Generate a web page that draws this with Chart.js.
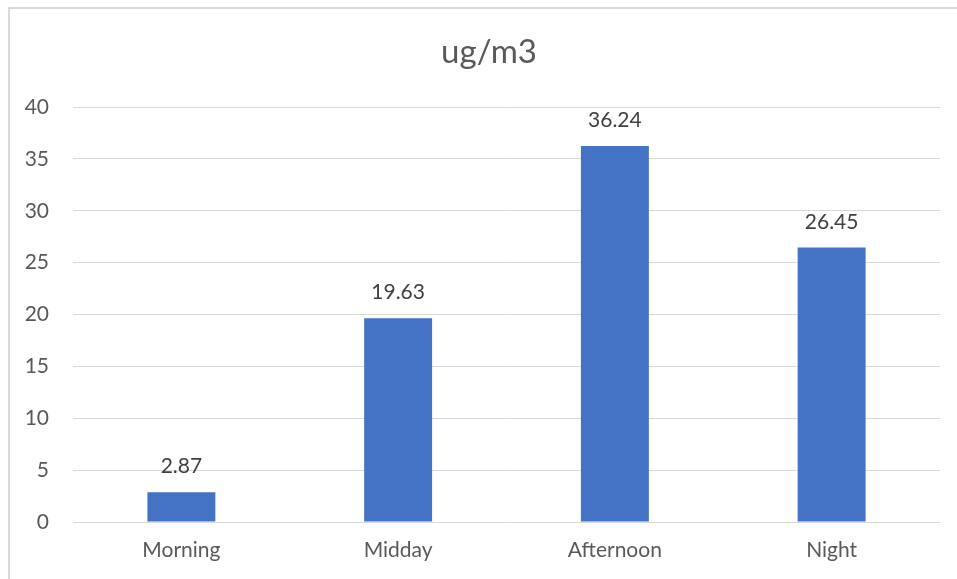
<!DOCTYPE html>
<html><head><meta charset="utf-8">
<script src="https://cdn.jsdelivr.net/npm/chart.js@4"></script>
<style>
html,body{margin:0;padding:0;background:#fff;}
#wrap{position:relative;width:957px;height:579px;overflow:hidden;}
#frame{position:absolute;left:8px;top:7px;width:1000px;height:620px;border:2px solid #d9d9d9;box-sizing:border-box;}
canvas{position:absolute;left:0;top:0;}
</style></head>
<body>
<div id="wrap"><div id="frame"></div><canvas id="c" width="957" height="579"></canvas></div>
<script>
const categories = ["Morning", "Midday", "Afternoon", "Night"];
const values = [2.87, 19.63, 36.24, 26.45];
const yTicks = [0, 5, 10, 15, 20, 25, 30, 35, 40];
const titleText = "ug/m3";

const FONT = "Lato, 'Open Sans', 'Liberation Sans', sans-serif";
const TICK_SIZE = 21;

const labelPlugin = {
  id: 'barLabels',
  afterDatasetsDraw(chart) {
    const ctx = chart.ctx;
    const meta = chart.getDatasetMeta(0);
    ctx.save();
    ctx.font = TICK_SIZE + "px " + FONT;
    ctx.fillStyle = "#404040";
    ctx.textAlign = "center";
    ctx.textBaseline = "alphabetic";
    meta.data.forEach((bar, i) => {
      ctx.fillText(values[i].toFixed(2), bar.x, bar.y - 19);
    });
    // chart title, centred on the outer chart frame
    ctx.font = "33px " + FONT;
    ctx.fillStyle = "#595959";
    ctx.textBaseline = "middle";
    ctx.fillText(titleText, chart.width / 2 + 10.5, 52);
    ctx.restore();
  }
};

new Chart(document.getElementById('c'), {
  type: 'bar',
  data: {
    labels: categories,
    datasets: [{
      data: values,
      backgroundColor: '#4472C4',
      borderWidth: 0,
      categoryPercentage: 1,
      barPercentage: 0.3135
    }]
  },
  options: {
    responsive: false,
    animation: false,
    layout: { padding: { left: 0, right: 17, top: 107, bottom: 0 } },
    plugins: {
      legend: { display: false },
      tooltip: { enabled: false },
      title: { display: false }
    },
    scales: {
      x: {
        grid: { display: false, drawTicks: false },
        border: { display: false },
        ticks: { color: '#595959', font: { family: FONT, size: TICK_SIZE }, padding: 16 },
        afterFit(s) { s.height = 57; }
      },
      y: {
        min: 0, max: 40,
        afterBuildTicks(s) { s.ticks = yTicks.map(v => ({ value: v })); },
        grid: { color: '#d9d9d9', lineWidth: 1, drawTicks: false },
        border: { display: false },
        ticks: { color: '#595959', font: { family: FONT, size: TICK_SIZE }, padding: 24 },
        afterFit(s) { s.width = 73; }
      }
    }
  },
  plugins: [labelPlugin]
});
</script>
</body></html>
